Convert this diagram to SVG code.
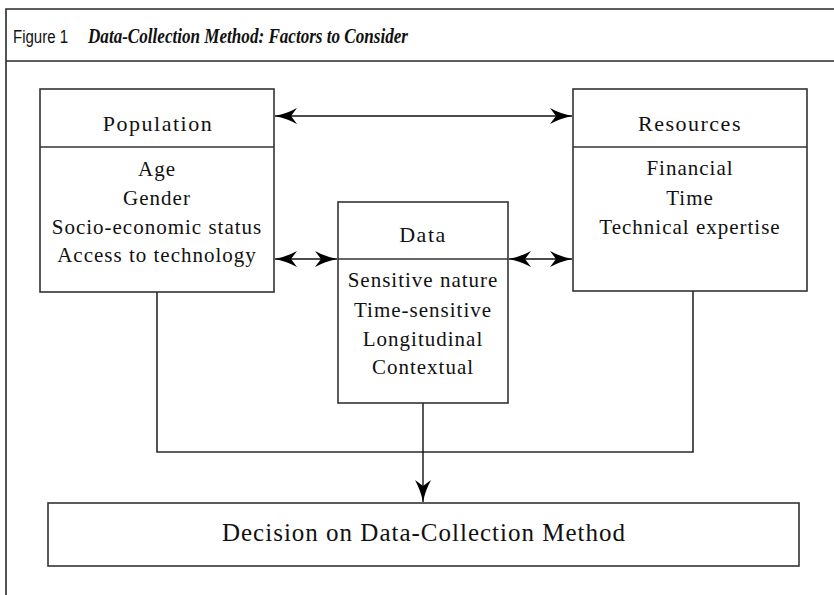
<svg xmlns="http://www.w3.org/2000/svg" width="834" height="595" viewBox="0 0 834 595">
<style>
.frame{stroke:#2a2a2a;stroke-width:1.6;fill:none}
.box{fill:#fff;stroke:#333;stroke-width:1.6}
.div{stroke:#333;stroke-width:1.6}
.conn{stroke:#111;stroke-width:1.4;fill:none}
.fig{font-family:"Liberation Sans",Arial,sans-serif;font-size:18px;fill:#111}
.ttl{font-family:"Liberation Serif","Times New Roman",serif;font-size:20px;font-weight:bold;font-style:italic;fill:#111}
.head{font-family:"Liberation Serif","Times New Roman",serif;font-size:22px;letter-spacing:1.5px;text-anchor:middle;fill:#111}
.body{font-family:"Liberation Serif","Times New Roman",serif;font-size:21px;letter-spacing:1px;text-anchor:middle;fill:#111}
.dec{font-family:"Liberation Serif","Times New Roman",serif;font-size:25px;letter-spacing:1px;text-anchor:middle;fill:#111}
</style>
<defs>
<marker id="ah" viewBox="0 0 22 16" refX="22" refY="8" markerWidth="22" markerHeight="16" markerUnits="userSpaceOnUse" orient="auto-start-reverse">
<path d="M0,0 Q10,5.5 22,8 Q10,10.5 0,16 L6,8 Z" fill="#000"/>
</marker>
</defs>
<rect width="834" height="595" fill="#fff"/>
<g id="frame">
<path class="frame" d="M6,595 V9 H834 M6,61 H834"/>
<text class="fig" x="13" y="43" textLength="55" lengthAdjust="spacingAndGlyphs">Figure 1</text>
<text class="ttl" x="88" y="43" textLength="320" lengthAdjust="spacingAndGlyphs">Data-Collection Method: Factors to Consider</text>
</g>
<g id="connectors">
<line class="conn" x1="275" y1="116" x2="572" y2="116" marker-start="url(#ah)" marker-end="url(#ah)"/>
<line class="conn" x1="275" y1="259" x2="337" y2="259" marker-start="url(#ah)" marker-end="url(#ah)"/>
<line class="conn" x1="509" y1="259" x2="572" y2="259" marker-start="url(#ah)" marker-end="url(#ah)"/>
<path class="frame" d="M157,292 V452 H693 V291"/>
<line class="conn" x1="423" y1="403" x2="423" y2="502" marker-end="url(#ah)"/>
</g>
<g id="population">
<rect class="box" x="40" y="89" width="234" height="203"/>
<line class="div" x1="40" y1="147" x2="274" y2="147"/>
<text class="head" x="158" y="131">Population</text>
<text class="body" x="157" y="176">Age</text>
<text class="body" x="157" y="205">Gender</text>
<text class="body" x="157" y="234">Socio-economic status</text>
<text class="body" x="157" y="262">Access to technology</text>
</g>
<g id="data">
<rect class="box" x="338" y="202" width="170" height="201"/>
<line class="div" x1="338" y1="259" x2="508" y2="259"/>
<text class="head" x="423" y="242">Data</text>
<text class="body" x="423" y="287">Sensitive nature</text>
<text class="body" x="423" y="317">Time-sensitive</text>
<text class="body" x="423" y="346">Longitudinal</text>
<text class="body" x="423" y="374">Contextual</text>
</g>
<g id="resources">
<rect class="box" x="573" y="89" width="234" height="202"/>
<line class="div" x1="573" y1="147" x2="807" y2="147"/>
<text class="head" x="690" y="131">Resources</text>
<text class="body" x="690" y="175">Financial</text>
<text class="body" x="690" y="205">Time</text>
<text class="body" x="690" y="234">Technical expertise</text>
</g>
<g id="decision">
<rect class="box" x="48" y="503" width="751" height="63"/>
<text class="dec" x="424" y="541">Decision on Data-Collection Method</text>
</g>
</svg>
